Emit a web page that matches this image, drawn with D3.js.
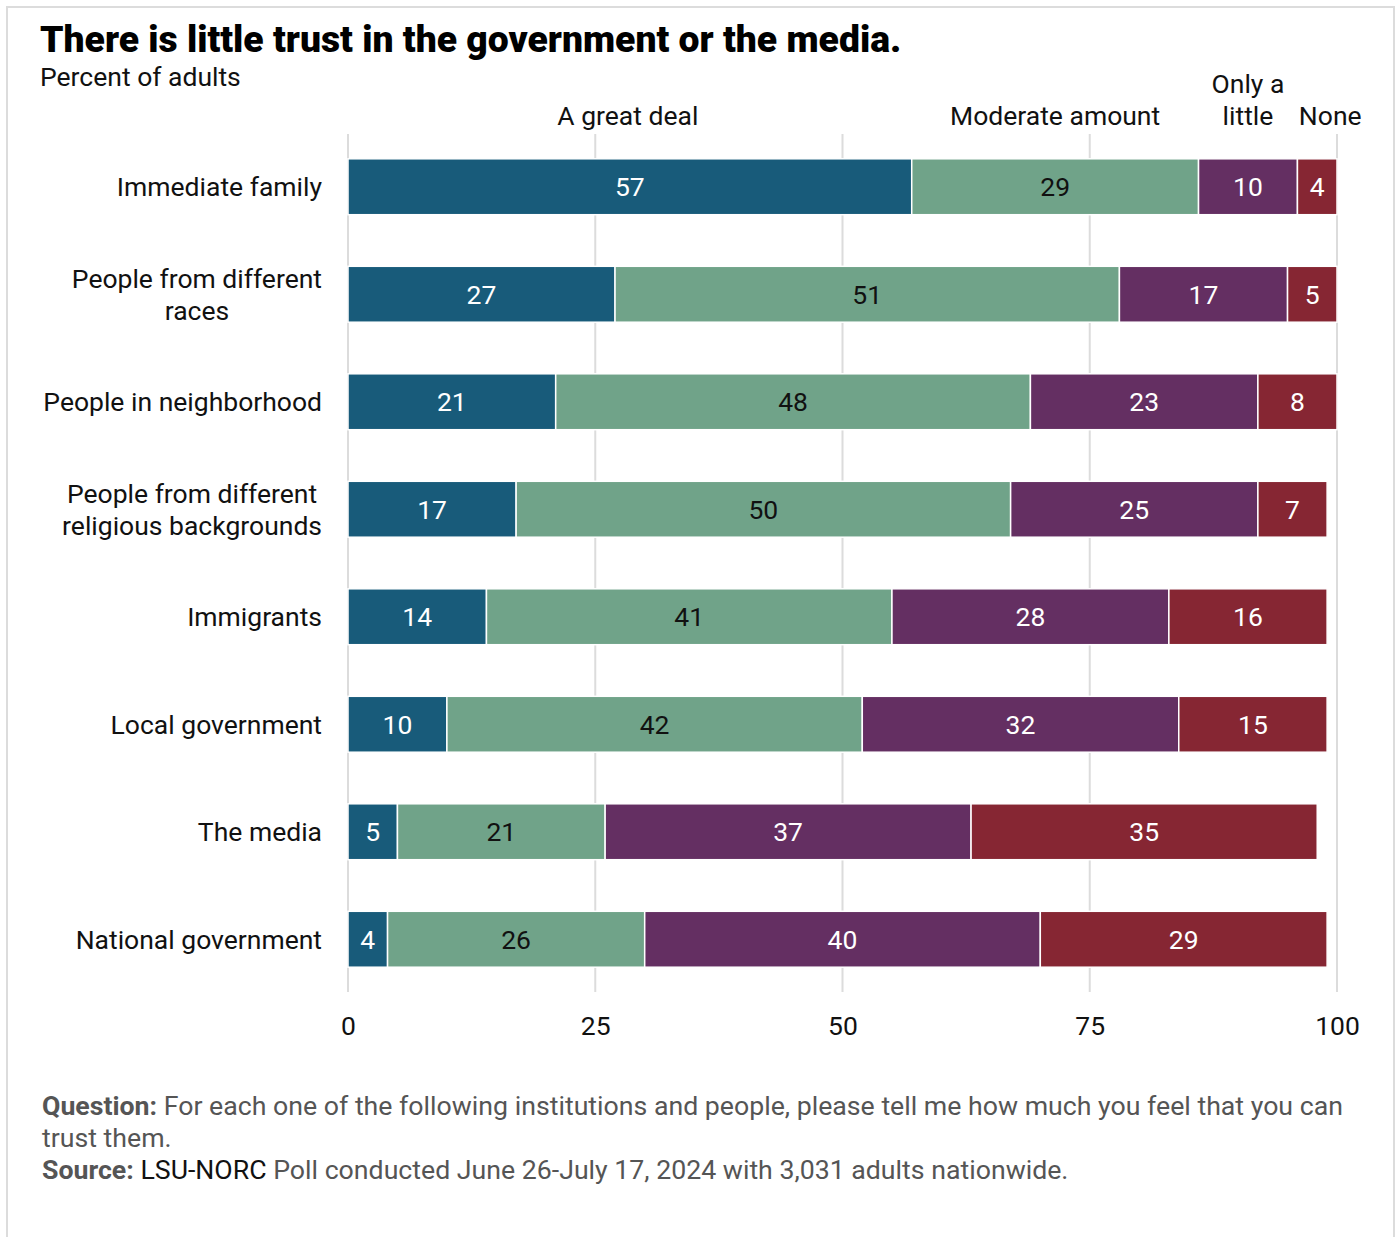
<!DOCTYPE html>
<html><head><meta charset="utf-8">
<script src="https://cdn.jsdelivr.net/npm/d3@7"></script>
<style>
body{margin:0;background:#fff;}
svg{display:block;font-family:Roboto,"Noto Sans",sans-serif;}
</style></head>
<body>
<script>
const categories = [
  ["Immediate family"],
  ["People from different","races"],
  ["People in neighborhood"],
  ["People from different","religious backgrounds"],
  ["Immigrants"],
  ["Local government"],
  ["The media"],
  ["National government"]
];
const seriesNames = ["A great deal","Moderate amount","Only a little","None"];
const greatDeal = [57,27,21,17,14,10,5,4];
const moderate  = [29,51,48,50,41,42,21,26];
const onlyLittle= [10,17,23,25,28,32,37,40];
const none      = [4,5,8,7,16,15,35,29];
const tickValues = [0,25,50,75,100];
const colors = ["#185b7a","#70a389","#642f62","#862633"];
const textColors = ["#fff","#111","#fff","#fff"];

const FS = 26.5;
const W = 1399, H = 1237;
const svg = d3.select("body").append("svg").attr("width",W).attr("height",H);
svg.append("rect").attr("x",7).attr("y",7).attr("width",1387).attr("height",1240)
  .attr("fill","#fff").attr("stroke","#dcdcdc").attr("stroke-width",2);

svg.append("text").attr("x",40).attr("y",52).attr("font-size",37.3).attr("font-weight",900)
  .attr("fill","#000").text("There is little trust in the government or the media.");
svg.append("text").attr("x",40).attr("y",86).attr("font-size",FS).attr("fill","#111").text("Percent of adults");

const x = d3.scaleLinear().domain([0,100]).range([348,1337]);
const keys = categories.map(c=>c.join(" "));
const y = d3.scaleBand().domain(keys).range([133,993]).paddingInner(0.48).paddingOuter(0.24);

const gAxis = svg.append("g").attr("transform","translate(0,1000)")
  .call(d3.axisBottom(x).tickValues(tickValues).tickSize(0).tickPadding(16).tickFormat(d3.format("d")));
gAxis.select(".domain").remove();
gAxis.selectAll("text").attr("font-size",FS).attr("fill","#111").attr("font-family","Roboto");
svg.append("g").selectAll("line").data(tickValues).join("line")
  .attr("x1",d=>x(d)).attr("x2",d=>x(d)).attr("y1",134).attr("y2",992)
  .attr("stroke","#dcdcdc").attr("stroke-width",2);

const rows = keys.map((k,i)=>({key:k, "A great deal":greatDeal[i], "Moderate amount":moderate[i], "Only a little":onlyLittle[i], "None":none[i]}));
const stacked = d3.stack().keys(seriesNames)(rows);

const layers = svg.append("g").selectAll("g").data(stacked).join("g");
layers.each(function(s,si){
  const g = d3.select(this);
  g.selectAll("rect").data(s).join("rect")
    .attr("x",d=>x(d[0])).attr("width",d=>x(d[1])-x(d[0]))
    .attr("y",d=>y(d.data.key)).attr("height",y.bandwidth())
    .attr("fill",colors[si]).attr("stroke","#fff").attr("stroke-width",1.5);
  g.selectAll("text").data(s).join("text")
    .attr("x",d=>(x(d[0])+x(d[1]))/2).attr("y",d=>y(d.data.key)+y.bandwidth()/2+9.5)
    .attr("text-anchor","middle").attr("font-size",FS).attr("fill",textColors[si])
    .text(d=>d[1]-d[0]);
});

categories.forEach((lines,i)=>{
  const cy = y(keys[i]) + y.bandwidth()/2;
  const t = svg.append("text").attr("font-size",FS).attr("fill","#111");
  const n = lines.length;
  lines.forEach((ln,j)=>{
    t.append("tspan").attr("y",cy + 9.5 + (j-(n-1)/2)*32).text(ln);
  });
  let maxW = 0;
  t.selectAll("tspan").each(function(){ maxW = Math.max(maxW,this.getComputedTextLength()); });
  t.attr("text-anchor","middle").selectAll("tspan").attr("x",322-maxW/2);
});

const first = stacked.map(s=>s[0]);
const labelLines = [["A great deal"],["Moderate amount"],["Only a","little"],["None"]];
const labelShift = [-2,0,0,13];
labelLines.forEach((lines,i)=>{
  const cx = (x(first[i][0])+x(first[i][1]))/2 + labelShift[i];
  const t = svg.append("text").attr("text-anchor","middle").attr("font-size",FS).attr("fill","#111");
  lines.forEach((ln,j)=>{
    t.append("tspan").attr("x",cx).attr("y",125 - (lines.length-1-j)*32).text(ln);
  });
});

const fn = svg.append("g").attr("font-size",26.7).attr("fill","#555");
const l1 = fn.append("text").attr("x",42).attr("y",1115);
l1.append("tspan").attr("font-weight",700).text("Question:");
l1.append("tspan").text(" For each one of the following institutions and people, please tell me how much you feel that you can");
fn.append("text").attr("x",42).attr("y",1147).text("trust them.");
const l3 = fn.append("text").attr("x",42).attr("y",1179);
l3.append("tspan").attr("font-weight",700).text("Source:");
l3.append("tspan").attr("fill","#111").text(" LSU-NORC");
l3.append("tspan").text(" Poll conducted June 26-July 17, 2024 with 3,031 adults nationwide.");
</script>
</body></html>
